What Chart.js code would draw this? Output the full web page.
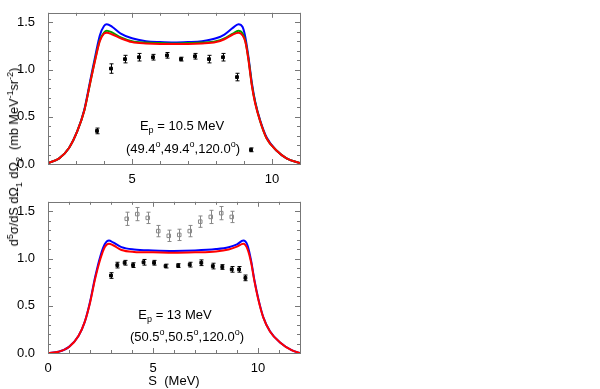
<!DOCTYPE html>
<html>
<head>
<meta charset="utf-8" />
<script src="https://cdnjs.cloudflare.com/ajax/libs/Chart.js/4.4.1/chart.umd.js"></script>
<style>
  body { margin: 0; background: #fff; width: 600px; height: 389px; overflow: hidden; position: relative; font-family: "Liberation Sans", Arial, sans-serif; }
  .box { position: absolute; left: 0; width: 310px; }
  .lbl { position: absolute; font-size: 13px; color: #000; white-space: nowrap; transform: translate(-50%, -50%); }
  .lbl sup, .lbl sub, .ytitle sup, .ytitle sub { font-size: 9px; line-height: 0; }
  .ytitle { position: absolute; left: 14px; top: 157px; font-size: 12.7px; white-space: nowrap; transform: translate(-50%, -50%) rotate(-90deg); }
</style>
</head>
<body>
<div class="box" style="top:0;height:186px"><canvas id="top"></canvas></div>
<div class="box" style="top:189px;height:200px"><canvas id="bottom"></canvas></div>

<div class="ytitle">d<sup>5</sup>σ/dS dΩ<sub>1</sub> dΩ<sub>2</sub>&nbsp; (mb MeV<sup>-1</sup>sr<sup>-2</sup>)</div>
<div class="lbl" style="left:182px;top:125px">E<sub>p</sub> = 10.5 MeV</div>
<div class="lbl" style="left:183px;top:148px">(49.4<sup>o</sup>,49.4<sup>o</sup>,120.0<sup>o</sup>)</div>
<div class="lbl" style="left:175px;top:314px">E<sub>p</sub> = 13 MeV</div>
<div class="lbl" style="left:187px;top:336px">(50.5<sup>o</sup>,50.5<sup>o</sup>,120.0<sup>o</sup>)</div>

<script>
// upper panel, Ep = 10.5 MeV
const topS     = [2, 2.4, 2.75, 3.05, 3.3, 3.5, 3.7, 3.85, 4.0, 4.1, 4.3, 4.6, 5.0, 5.5, 6.0, 6.5, 7.0, 7.5, 8.0, 8.3, 8.6, 8.8, 8.95, 9.05, 9.16, 9.28, 9.4, 9.58, 9.81, 10.17, 10.52, 11];
const topBlue  = [0.01, 0.06, 0.17, 0.35, 0.58, 0.87, 1.16, 1.36, 1.46, 1.48, 1.45, 1.38, 1.33, 1.30, 1.29, 1.285, 1.29, 1.30, 1.33, 1.37, 1.44, 1.48, 1.45, 1.34, 1.13, 0.86, 0.66, 0.46, 0.28, 0.14, 0.06, 0.01];
const topGreen = [0.01, 0.06, 0.17, 0.35, 0.57, 0.85, 1.13, 1.31, 1.39, 1.41, 1.39, 1.34, 1.30, 1.285, 1.28, 1.275, 1.28, 1.285, 1.30, 1.33, 1.38, 1.41, 1.38, 1.30, 1.11, 0.84, 0.65, 0.45, 0.27, 0.14, 0.06, 0.01];
const topRed   = [0.01, 0.06, 0.17, 0.35, 0.57, 0.85, 1.12, 1.30, 1.38, 1.39, 1.37, 1.33, 1.29, 1.275, 1.27, 1.27, 1.27, 1.275, 1.29, 1.32, 1.37, 1.39, 1.36, 1.29, 1.10, 0.83, 0.64, 0.45, 0.27, 0.14, 0.06, 0.01];
const topExpS   = [3.75, 4.25, 4.75, 5.25, 5.75, 6.25, 6.75, 7.25, 7.75, 8.25, 8.75, 9.25];
const topExpY   = [0.35, 1.01, 1.11, 1.13, 1.13, 1.15, 1.11, 1.14, 1.11, 1.13, 0.92, 0.15];
const topExpErr = [0.03, 0.05, 0.04, 0.04, 0.03, 0.03, 0.02, 0.03, 0.04, 0.04, 0.04, 0.02];

// lower panel, Ep = 13 MeV
const botS    = [0, 0.5, 1.0, 1.45, 1.75, 2.0, 2.25, 2.5, 2.7, 2.9, 3.1, 3.5, 4.1, 5.0, 6.0, 7.0, 8.0, 8.6, 9.0, 9.3, 9.5, 9.67, 9.83, 10.02, 10.25, 10.57, 11.05, 11.6, 12];
const botBlue = [0, 0.013, 0.065, 0.18, 0.33, 0.54, 0.81, 1.03, 1.15, 1.19, 1.17, 1.12, 1.095, 1.085, 1.08, 1.085, 1.10, 1.12, 1.15, 1.19, 1.14, 0.98, 0.77, 0.57, 0.38, 0.23, 0.11, 0.03, 0];
const botRed  = [0, 0.013, 0.063, 0.18, 0.33, 0.53, 0.79, 1.0, 1.12, 1.155, 1.14, 1.09, 1.07, 1.065, 1.06, 1.065, 1.075, 1.095, 1.125, 1.155, 1.10, 0.96, 0.76, 0.56, 0.377, 0.228, 0.112, 0.03, 0];
const botExpS   = [3.0, 3.3, 3.65, 4.05, 4.55, 5.05, 5.6, 6.2, 6.75, 7.3, 7.85, 8.3, 8.75, 9.1, 9.4];
const botExpY   = [0.82, 0.93, 0.955, 0.93, 0.96, 0.955, 0.92, 0.925, 0.935, 0.955, 0.92, 0.91, 0.885, 0.885, 0.795];
const botExpErr = [0.03, 0.03, 0.025, 0.025, 0.03, 0.025, 0.02, 0.02, 0.025, 0.03, 0.03, 0.025, 0.03, 0.03, 0.03];
const botExp2S   = [3.75, 4.25, 4.75, 5.25, 5.75, 6.25, 6.75, 7.25, 7.75, 8.25, 8.75];
const botExp2Y   = [1.42, 1.47, 1.43, 1.29, 1.24, 1.25, 1.29, 1.39, 1.44, 1.48, 1.44];
const botExp2Err = [0.07, 0.07, 0.06, 0.06, 0.06, 0.06, 0.06, 0.06, 0.07, 0.07, 0.06];

function pts(xs, ys) { return xs.map((x, i) => ({ x: x, y: ys[i] })); }

function curve(xs, ys, color) {
  return { type: "line", data: pts(xs, ys), borderColor: color, borderWidth: 2, pointRadius: 0, fill: false, cubicInterpolationMode: "monotone" };
}

function points(xs, ys, errs, color, filled) {
  return { type: "scatter", data: pts(xs, ys), errors: errs, errColor: color,
    pointStyle: "rect", pointRadius: filled ? 2 : 2.5, borderWidth: 1, borderColor: color,
    backgroundColor: filled ? color : "rgba(0,0,0,0)" };
}

// error bars drawn with the y scale
const errorBars = {
  id: "errorBars",
  afterDatasetsDraw(chart) {
    const ctx = chart.ctx, ys = chart.scales.y;
    chart.data.datasets.forEach((ds, di) => {
      if (!ds.errors) return;
      const meta = chart.getDatasetMeta(di);
      ctx.save();
      ctx.strokeStyle = ds.errColor;
      ctx.lineWidth = 1;
      meta.data.forEach((el, i) => {
        const v = ds.data[i].y, e = ds.errors[i];
        const y1 = ys.getPixelForValue(v + e), y2 = ys.getPixelForValue(v - e);
        const x = Math.round(el.x) + 0.5;
        ctx.beginPath();
        ctx.moveTo(x, y1); ctx.lineTo(x, y2);
        ctx.moveTo(x - 2, y1); ctx.lineTo(x + 2, y1);
        ctx.moveTo(x - 2, y2); ctx.lineTo(x + 2, y2);
        ctx.stroke();
      });
      ctx.restore();
    });
  }
};

// frame with inward ticks on all four sides
const frame = {
  id: "frame",
  afterDraw(chart) {
    const ctx = chart.ctx, a = chart.chartArea, xs = chart.scales.x, ys = chart.scales.y;
    ctx.save();
    ctx.strokeStyle = "#777";
    ctx.lineWidth = 1;
    ctx.strokeRect(Math.round(a.left) + 0.5, Math.round(a.top) + 0.5, Math.round(a.right - a.left), Math.round(a.bottom - a.top));
    ctx.beginPath();
    for (let v = Math.ceil(xs.min); v <= xs.max; v += 1) {
      const x = Math.round(xs.getPixelForValue(v)) + 0.5;
      const len = v % 5 === 0 ? 5 : 3;
      ctx.moveTo(x, a.bottom); ctx.lineTo(x, a.bottom - len);
      ctx.moveTo(x, a.top); ctx.lineTo(x, a.top + len);
    }
    for (let k = 0; k <= Math.round(ys.max * 10); k++) {
      const y = Math.round(ys.getPixelForValue(k / 10)) + 0.5;
      const len = k % 5 === 0 ? 5 : 3;
      ctx.moveTo(a.left, y); ctx.lineTo(a.left + len, y);
      ctx.moveTo(a.right, y); ctx.lineTo(a.right - len, y);
    }
    ctx.stroke();
    ctx.restore();
  }
};

const tickFont = { family: "Liberation Sans", size: 13 };

function makeChart(id, xmin, xmax, datasets, xTitle, xHeight) {
  return new Chart(document.getElementById(id), {
    data: { datasets: datasets },
    options: {
      responsive: true,
      maintainAspectRatio: false,
      animation: false,
      layout: { padding: { top: 3, right: 10, left: 0, bottom: 0 } },
      plugins: { legend: { display: false }, tooltip: { enabled: false } },
      scales: {
        x: {
          type: "linear", min: xmin, max: xmax,
          grid: { display: false }, border: { display: false },
          ticks: { stepSize: 1, includeBounds: false, autoSkip: false, maxRotation: 0, padding: 0, color: "#000", font: tickFont,
            callback: v => (v % 5 === 0 ? String(v) : "") },
          title: { display: !!xTitle, text: xTitle, color: "#000", font: tickFont, padding: { top: 0, bottom: 0 } },
          afterFit: s => { s.height = xHeight; }
        },
        y: {
          min: 0, max: 1.6,
          grid: { display: false }, border: { display: false },
          ticks: { stepSize: 0.5, includeBounds: false, padding: 5, color: "#000", font: tickFont,
            callback: v => v.toFixed(1) },
          afterFit: s => { s.width = 48; }
        }
      }
    },
    plugins: [errorBars, frame]
  });
}

// first dataset is painted last, so red lies over green and blue
makeChart("top", 2, 11, [
  points(topExpS, topExpY, topExpErr, "#000", true),
  curve(topS, topRed, "#ff0000"),
  curve(topS, topGreen, "#00a000"),
  curve(topS, topBlue, "#0000ff")
], "", 22);

makeChart("bottom", 0, 12, [
  points(botExpS, botExpY, botExpErr, "#000", true),
  points(botExp2S, botExp2Y, botExp2Err, "#888", false),
  curve(botS, botRed, "#ff0000"),
  curve(botS, botBlue, "#0000ff")
], "S  (MeV)", 36);
</script>
</body>
</html>
